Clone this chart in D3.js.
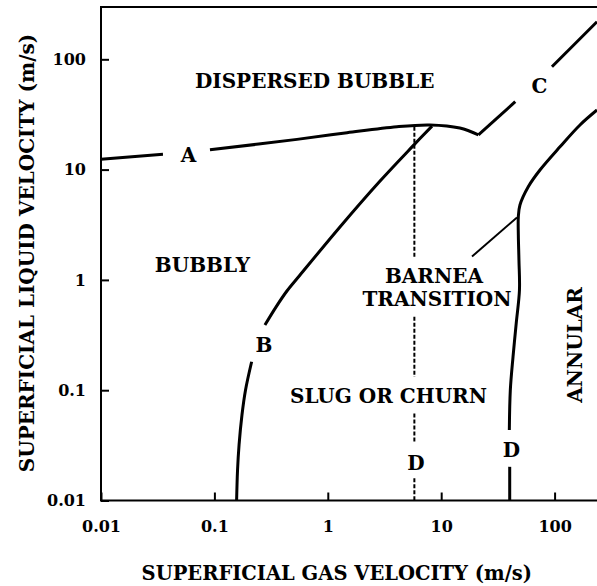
<!DOCTYPE html>
<html><head><meta charset="utf-8">
<script src="https://cdn.jsdelivr.net/npm/d3@7"></script>
<style>
  body { margin: 0; background: #fff; }
  svg { display: block; }
  text { font-family: "DejaVu Serif", "Liberation Serif", serif; font-weight: bold; fill: #000; }
</style>
</head><body>
<svg id="chart" width="597" height="586"></svg>
<script>
// Vertical two-phase flow regime map (superficial velocities, m/s)
const xTicks = [0.01, 0.1, 1, 10, 100];
const yTicks = [0.01, 0.1, 1, 10, 100];
const xTickLabels = ["0.01", "0.1", "1", "10", "100"];
const yTickLabels = ["0.01", "0.1", "1", "10", "100"];

// Boundary A (dispersed bubble), broken where its letter sits
const curveA1 = [[0.01, 12.4], [0.0352, 13.8]];
const curveA2 = [[0.0914, 15.1], [0.535, 18.8], [1.48, 21.6], [4.07, 24.5], [7.96, 25.4], [14.6, 23.8], [21.3, 20.6]];
// Boundary C
const curveC1 = [[21.3, 20.6], [45, 41.3]];
const curveC2 = [[94.8, 85.7], [236.6, 219]];
// Boundary B (bubbly to slug)
const curveB1 = [[0.157, 0.01], [0.160, 0.0189], [0.165, 0.0319], [0.175, 0.0596], [0.188, 0.1], [0.213, 0.181]];
const curveB2 = [[0.279, 0.39], [0.349, 0.567], [0.436, 0.793], [0.569, 1.107], [1.28, 3.02], [2.89, 7.88], [5.64, 16.4], [8.3, 24.8]];
// Boundary D (annular)
const curveD1 = [[40.2, 0.01], [40.2, 0.0202]];
const curveD2 = [[39.9, 0.0436], [40.7, 0.1], [43.0, 0.201], [45.9, 0.405], [49.0, 0.809], [48.5, 1.51], [47.9, 2.55], [47.9, 3.74], [49.5, 4.78], [58.6, 7.0], [74.3, 9.92], [111.6, 16.1], [167.5, 25.4], [236.6, 34.7]];
// Barnea transition: dashed line at constant gas velocity, pieces between labels
const barneaGas = 5.8;
const barneaPieces = [[24.5, 1.57], [0.463, 0.132], [0.0616, 0.0341], [0.0159, 0.01]];
const barneaLeader = [[18.7, 1.63], [46.6, 3.68]];

// Region names and boundary letters, anchored in data coordinates
const regionLabels = [
  { text: "DISPERSED BUBBLE", gas: 0.767, liq: 54.6 },
  { text: "BUBBLY", gas: 0.0785, liq: 1.19 },
  { text: "BARNEA", gas: 8.64, liq: 0.931 },
  { text: "TRANSITION", gas: 9.18, liq: 0.579 },
  { text: "SLUG OR CHURN", gas: 3.43, liq: 0.076 }
];
const letterLabels = [
  { text: "A", gas: 0.0592, liq: 11.8 },
  { text: "B", gas: 0.273, liq: 0.223 },
  { text: "C", gas: 73.6, liq: 49.8 },
  { text: "D", gas: 6.0, liq: 0.0189 },
  { text: "D", gas: 41.7, liq: 0.0249 }
];
const annularLabel = { text: "ANNULAR", gas: 174.6, liq: 0.257 };

const xTitle = "SUPERFICIAL GAS VELOCITY (m/s)";
const yTitle = "SUPERFICIAL LIQUID VELOCITY (m/s)";

const svg = d3.select("#chart");
const x = d3.scaleLog().domain([0.01, 236.6]).range([101, 597]);
const y = d3.scaleLog().domain([0.01, 298]).range([500.5, 7]);

// Frame: left, top and bottom edges
const frame = svg.append("g").attr("stroke", "#000").attr("stroke-width", 2).attr("fill", "none");
frame.append("path").attr("d", `M${x.range()[1]},${y.range()[1]}H${x.range()[0]}V${y.range()[0]}H${x.range()[1]}`);

// Axes with inward ticks
const xAxis = svg.append("g").attr("transform", `translate(0,${y.range()[0]})`)
  .call(d3.axisBottom(x).tickValues(xTicks).tickFormat((d, i) => xTickLabels[i]).tickSize(-8).tickSizeOuter(0).tickPadding(20));
const yAxis = svg.append("g").attr("transform", `translate(${x.range()[0]},0)`)
  .call(d3.axisLeft(y).tickValues(yTicks).tickFormat((d, i) => yTickLabels[i]).tickSize(-8).tickSizeOuter(0).tickPadding(15));
[xAxis, yAxis].forEach(g => {
  g.select(".domain").remove();
  g.selectAll(".tick line").attr("stroke", "#000").attr("stroke-width", 2);
  g.selectAll(".tick text").attr("font-family", null).attr("font-size", 16);
});

// Boundaries
const line = d3.line().x(d => x(d[0])).y(d => y(d[1])).curve(d3.curveCatmullRom.alpha(0.5));
const curves = svg.append("g").attr("fill", "none").attr("stroke", "#000")
  .attr("stroke-width", 3).attr("stroke-linecap", "butt").attr("stroke-linejoin", "round");
[curveA1, curveA2, curveC1, curveC2, curveB1, curveB2, curveD1, curveD2].forEach(c => {
  curves.append("path").attr("d", line(c));
});
curves.append("path").attr("d", d3.line().x(d => x(d[0])).y(d => y(d[1]))(barneaLeader))
  .attr("stroke-width", 2);

// Barnea dashed line
const dashes = svg.append("g").attr("stroke", "#000").attr("stroke-width", 2).attr("stroke-dasharray", "4,2");
for (let i = 0; i < barneaPieces.length; i++) {
  const [top, bottom] = barneaPieces[i];
  dashes.append("line").attr("x1", x(barneaGas)).attr("x2", x(barneaGas))
    .attr("y1", y(top)).attr("y2", y(bottom));
}

// Labels
svg.append("g").selectAll("text").data(regionLabels).join("text")
  .attr("x", d => x(d.gas)).attr("y", d => y(d.liq))
  .attr("text-anchor", "middle").attr("font-size", 20).text(d => d.text);
svg.append("g").selectAll("text").data(letterLabels).join("text")
  .attr("x", d => x(d.gas)).attr("y", d => y(d.liq))
  .attr("text-anchor", "middle").attr("font-size", 20).text(d => d.text);
svg.append("text")
  .attr("transform", `translate(${x(annularLabel.gas)},${y(annularLabel.liq)}) rotate(-90)`)
  .attr("text-anchor", "middle").attr("font-size", 20).text(annularLabel.text);

// Axis titles
svg.append("text").attr("x", 336.8).attr("y", 580).attr("text-anchor", "middle")
  .attr("font-size", 19.5).text(xTitle);
svg.append("text").attr("transform", "translate(33.5,253) rotate(-90)").attr("text-anchor", "middle")
  .attr("font-size", 20).text(yTitle);
</script>
</body></html>
